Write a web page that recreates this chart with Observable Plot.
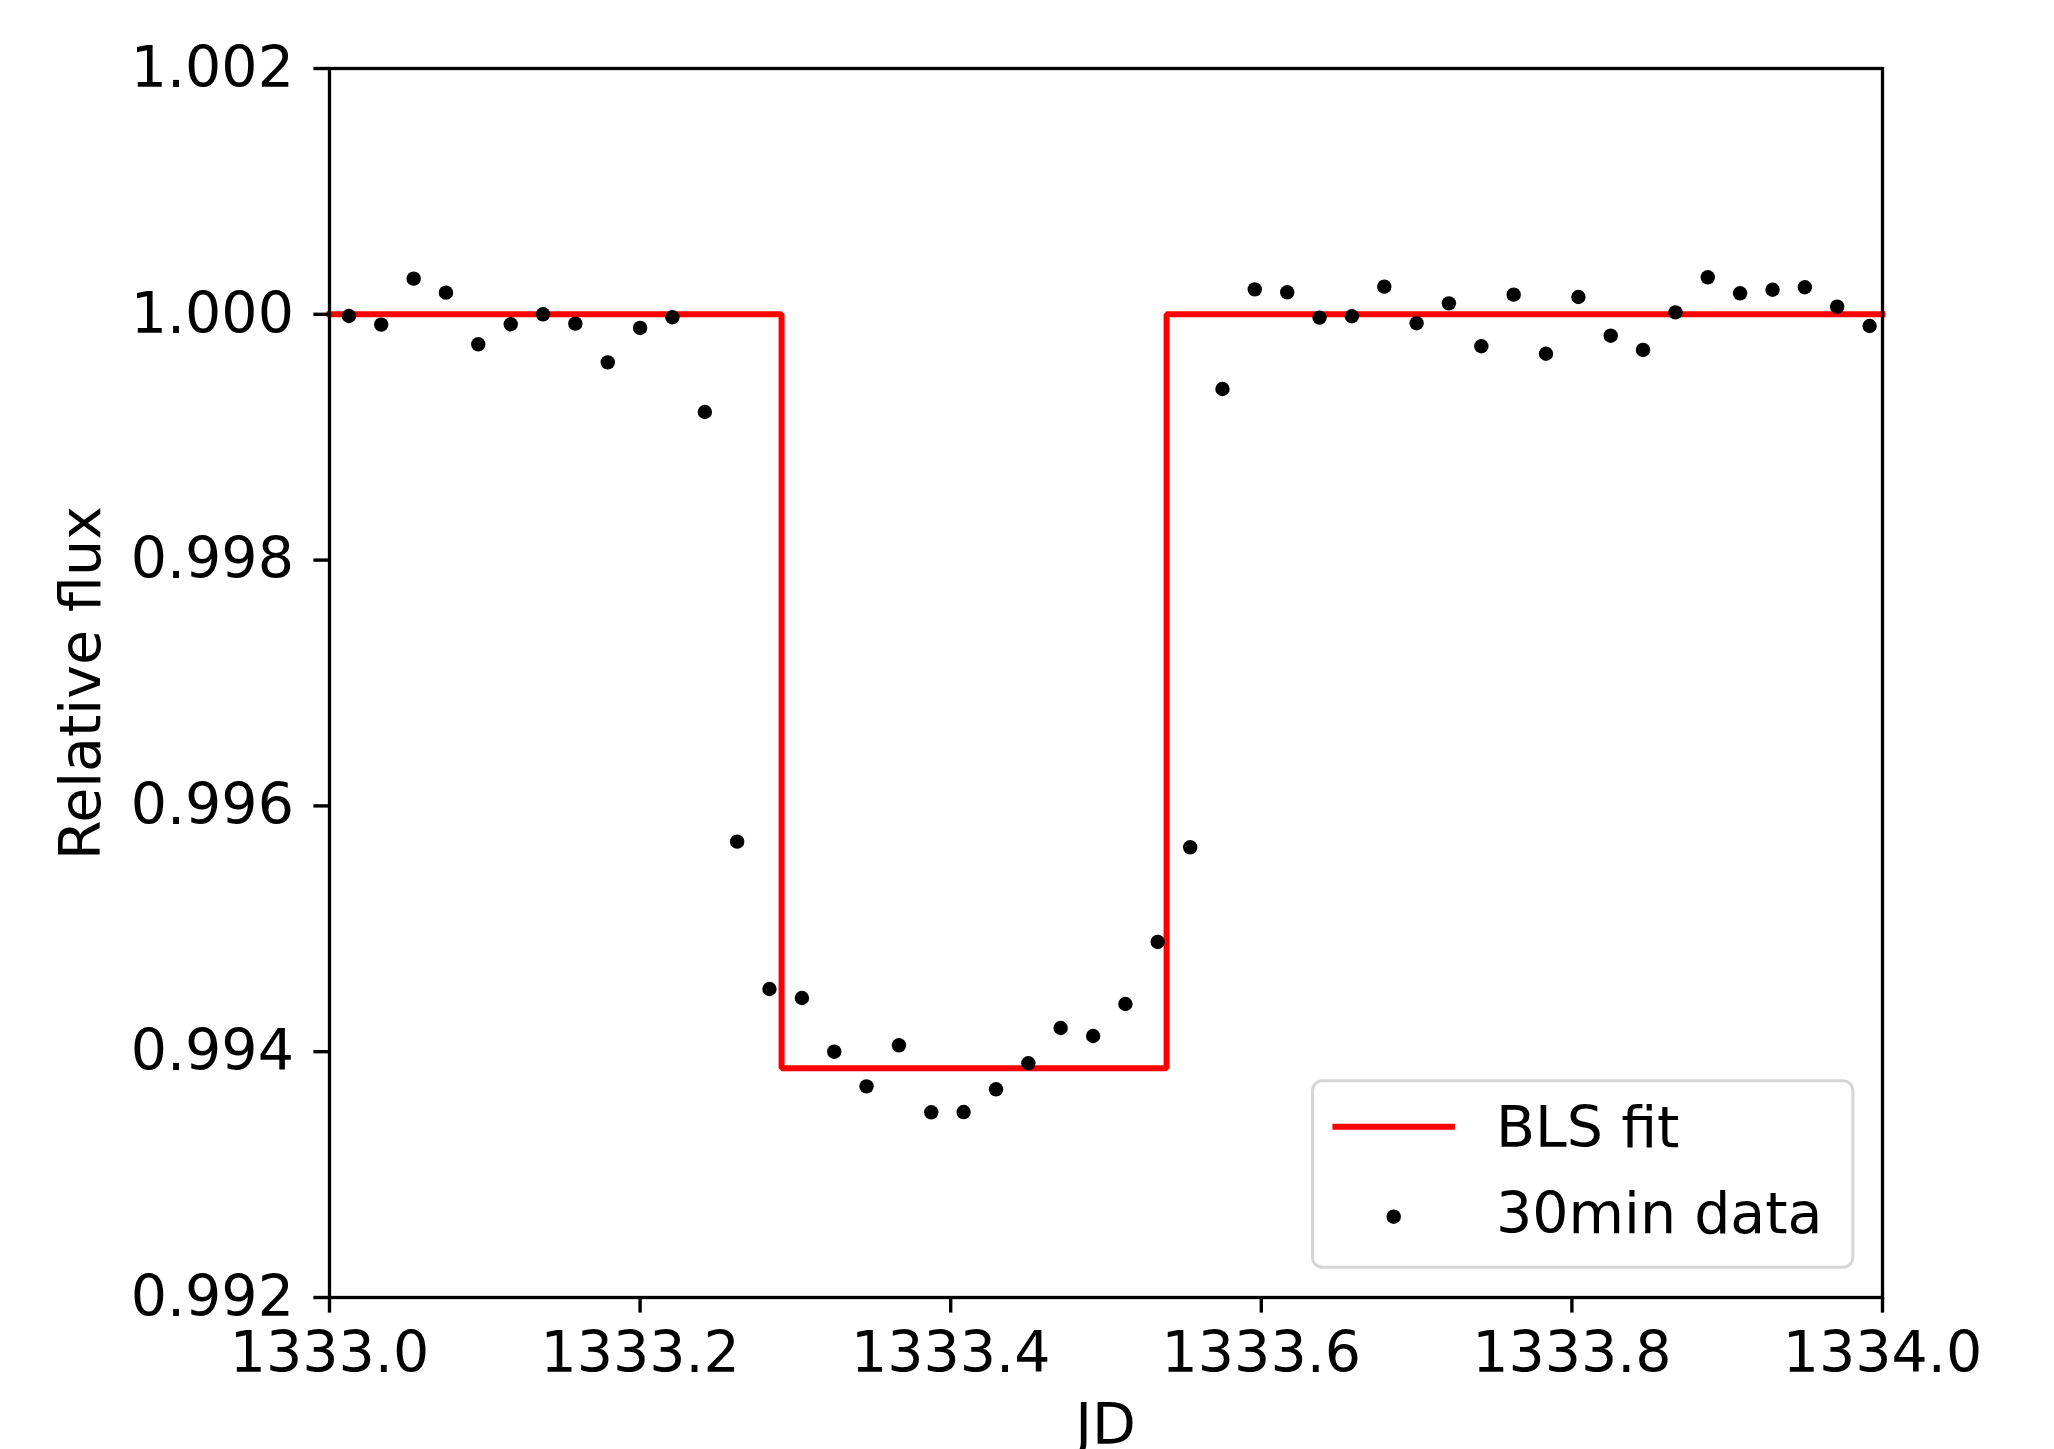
<!DOCTYPE html>
<html><head><meta charset="utf-8">
<script src="https://cdn.jsdelivr.net/npm/d3@7"></script>
<script src="https://cdn.jsdelivr.net/npm/@observablehq/plot@0.6"></script>
<style>html,body{margin:0;padding:0;background:#fff;} svg{display:block}</style>
</head><body><div id="chart"></div>
<script>
// 30-min binned data (JD, relative flux)
const jd = [
  1333.0125, 1333.0333, 1333.0542, 1333.0750, 1333.0958, 1333.1167, 1333.1375, 1333.1583,
  1333.1792, 1333.2000, 1333.2208, 1333.2417, 1333.2625, 1333.2833, 1333.3042, 1333.3250,
  1333.3458, 1333.3667, 1333.3875, 1333.4083, 1333.4292, 1333.4500, 1333.4708, 1333.4917,
  1333.5125, 1333.5333, 1333.5542, 1333.5750, 1333.5958, 1333.6167, 1333.6375, 1333.6583,
  1333.6792, 1333.7000, 1333.7208, 1333.7417, 1333.7625, 1333.7833, 1333.8042, 1333.8250,
  1333.8458, 1333.8667, 1333.8875, 1333.9083, 1333.9292, 1333.9500, 1333.9708, 1333.9917
];
const flux = [
  0.999986, 0.999916, 1.000290, 1.000176, 0.999756, 0.999919, 1.000000, 0.999924,
  0.999609, 0.999889, 0.999976, 0.999205, 0.995709, 0.994510, 0.994437, 0.994000,
  0.993718, 0.994052, 0.993507, 0.993509, 0.993694, 0.993906, 0.994193, 0.994128,
  0.994388, 0.994893, 0.995663, 0.999392, 1.000203, 1.000179, 0.999973, 0.999984,
  1.000225, 0.999927, 1.000089, 0.999740, 1.000160, 0.999679, 1.000141, 0.999826,
  0.999710, 1.000016, 1.000301, 1.000171, 1.000200, 1.000220, 1.000062, 0.999905
];
// BLS box model
const blsJD = [1333.0, 1333.2911, 1333.2911, 1333.5390, 1333.5390, 1334.0];
const blsFlux = [1.0, 1.0, 0.993865, 0.993865, 1.0, 1.0];

const xTicks = [1333.0, 1333.2, 1333.4, 1333.6, 1333.8, 1334.0];
const yTicks = [0.992, 0.994, 0.996, 0.998, 1.000, 1.002];
const seriesNames = ["BLS fit", "30min data"];
const xLabel = "JD";
const yLabel = "Relative flux";

const points = jd.map((x, i) => ({x, y: flux[i]}));
const bls = blsJD.map((x, i) => ({x, y: blsFlux[i]}));

const FONT = "'DejaVu Sans', sans-serif";
const FS = 57;

const chart = Plot.plot({
  width: 2054, height: 1449,
  marginLeft: 329, marginRight: 172, marginTop: 68, marginBottom: 152,
  style: {fontFamily: FONT, fontSize: FS + "px", background: "#fff", color: "#000", overflow: "visible"},
  x: {domain: [1333, 1334]},
  y: {domain: [0.992, 1.002]},
  marks: [
    Plot.line(bls, {x: "x", y: "y", stroke: "#ff0000", strokeWidth: 6, strokeLinejoin: "miter", strokeLinecap: "square"}),
    Plot.dot(points, {x: "x", y: "y", r: 7.2, fill: "#000", stroke: null}),
    Plot.frame({stroke: "#000", strokeWidth: 3.3}),
    Plot.axisX({ticks: xTicks, tickFormat: d => d.toFixed(1), tickSize: 15.6, tickPadding: 18,
      fontSize: FS, label: null, strokeWidth: 3.4}),
    Plot.axisY({ticks: yTicks, tickFormat: d => d.toFixed(3), tickSize: 15.6, tickPadding: 20,
      fontSize: FS, label: null, strokeWidth: 3.4})
  ]
});
document.getElementById("chart").appendChild(chart);

const svg = d3.select(chart);
// axis labels
svg.append("text").attr("x", 1105.5).attr("y", 1444).attr("text-anchor", "middle")
  .attr("font-family", FONT).attr("font-size", FS).attr("fill", "#000").text(xLabel);
svg.append("text").attr("transform", "translate(100,683) rotate(-90)").attr("text-anchor", "middle")
  .attr("font-family", FONT).attr("font-size", FS).attr("fill", "#000").text(yLabel);

// legend
const lg = svg.append("g").attr("text-anchor", "start");
lg.append("rect").attr("x", 1312.5).attr("y", 1080.7).attr("width", 540.4).attr("height", 186.6)
  .attr("rx", 10).attr("fill", "#fff").attr("fill-opacity", 0.8)
  .attr("stroke", "#d6d6d6").attr("stroke-width", 3);
lg.append("line").attr("x1", 1332.4).attr("x2", 1454.9).attr("y1", 1126.7).attr("y2", 1126.7)
  .attr("stroke", "#ff0000").attr("stroke-width", 6);
lg.append("circle").attr("cx", 1393.7).attr("cy", 1216.7).attr("r", 7.2).attr("fill", "#000");
lg.append("text").attr("x", 1496).attr("y", 1147).attr("text-anchor", "start").attr("font-family", FONT).attr("font-size", FS)
  .attr("fill", "#000").text(seriesNames[0]);
lg.append("text").attr("x", 1496).attr("y", 1232.7).attr("text-anchor", "start").attr("font-family", FONT).attr("font-size", FS)
  .attr("fill", "#000").text(seriesNames[1]);
</script>
</body></html>
